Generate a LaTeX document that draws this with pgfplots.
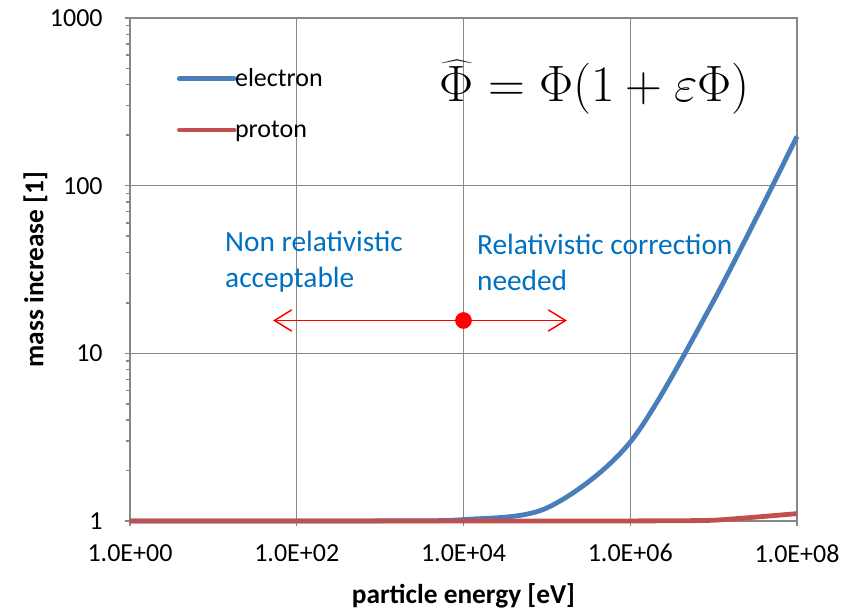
\documentclass[border=0pt]{standalone}
\usepackage{pgfplots}
\pgfplotsset{compat=1.18}
\usepackage{fontspec}
\setmainfont{Carlito}
\usetikzlibrary{arrows.meta}

\definecolor{eblue}{HTML}{4A7EBB}
\definecolor{pred}{HTML}{C0504D}
\definecolor{gridgray}{HTML}{878787}
\definecolor{notblue}{HTML}{0070C0}

% gamma = 1 + E / (m c^2) at each decade of particle energy
\pgfplotstableread{
E      gamma
1      1.000002
10     1.00002
100    1.0002
1000   1.00196
1e4    1.0196
1e5    1.196
1e6    2.957
1e7    20.57
1e8    196.7
}\electron
\pgfplotstableread{
E      gamma
1      1.000001
10     1.00001
100    1.0001
1000   1.000001
1e4    1.00001
1e5    1.000107
1e6    1.00107
1e7    1.01066
1e8    1.1066
}\proton

\begin{document}
\begin{tikzpicture}
\path[use as bounding box] (-97.5pt,-68.25pt) rectangle (540.75pt,390.75pt);
\begin{axis}[
  at={(0,0)}, anchor=south west,
  scale only axis, width=500.25pt, height=377.25pt,
  xmode=log, ymode=log,
  xmin=1, xmax=1e8, ymin=1, ymax=1000,
  xtick={1,100,1e4,1e6,1e8},
  xticklabels={1.0E+00,1.0E+02,1.0E+04,1.0E+06,1.0E+08},
  ytick={1,10,100,1000},
  yticklabels={1,10,100,1000},
  minor tick num=0,
  log ticks with fixed point,
  tick pos=left, tick align=outside,
  major tick length=4pt,
  grid=major,
  major grid style={gridgray, line width=1.1pt},
  axis line style={gridgray, line width=1.1pt},
  tick style={gridgray, line width=1.1pt},
  ticklabel style={font=\fontsize{19.5}{23}\selectfont, text=black},
  xticklabel style={yshift=-10pt},
  yticklabel style={xshift=-13pt},
  xlabel={\textbf{particle energy [eV]}},
  ylabel={\textbf{mass increase [1]}},
  label style={font=\fontsize{20.5}{24}\selectfont},
  xlabel style={yshift=-9pt},
  ylabel style={yshift=-5pt},
  legend style={at={(0.07,0.905)}, anchor=north west, draw=none, fill=none,
    font=\fontsize{19.5}{23}\selectfont, row sep=20pt, inner sep=0pt},
  legend cell align=left,
  legend image code/.code={\draw[#1, line cap=round] (0pt,0pt) -- (41pt,0pt);},
  legend style={/tikz/every even column/.append style={column sep=0pt}},
  clip=false,
]
\addplot[eblue, line width=3.6pt, smooth, tension=0.5] table[x=E, y=gamma] {\electron};
\addlegendentry{\hspace{-3pt}electron}
\addplot[pred, line width=3.6pt, smooth, tension=0.3] table[x=E, y=gamma] {\proton};
\addlegendentry{\hspace{-3pt}proton}

\draw[red, line width=1.1pt, {Straight Barb[length=13pt,width=16pt]}-{Straight Barb[length=13pt,width=16pt]}]
  (axis cs:52,15.7) -- (axis cs:1.74e5,15.7);
\addplot[forget plot, only marks, mark=*, red, mark size=6pt] coordinates {(1e4,15.7)};

\node[anchor=west, align=left, inner sep=0pt, text=notblue, font=\fontsize{22}{27}\selectfont]
  at (rel axis cs:0.1424,0.515) {Non relativistic\\acceptable};
\node[anchor=west, align=left, inner sep=0pt, text=notblue, font=\fontsize{22}{27}\selectfont]
  at (rel axis cs:0.520,0.515) {Relativistic correction\\needed};
\node[inner sep=0pt]
  at (rel axis cs:0.697,0.862) {\scalebox{1.54}{\fontsize{24.88}{30}\selectfont$\widehat{\Phi}=\Phi(1+\varepsilon\Phi)$}};
\end{axis}
\end{tikzpicture}
\end{document}
